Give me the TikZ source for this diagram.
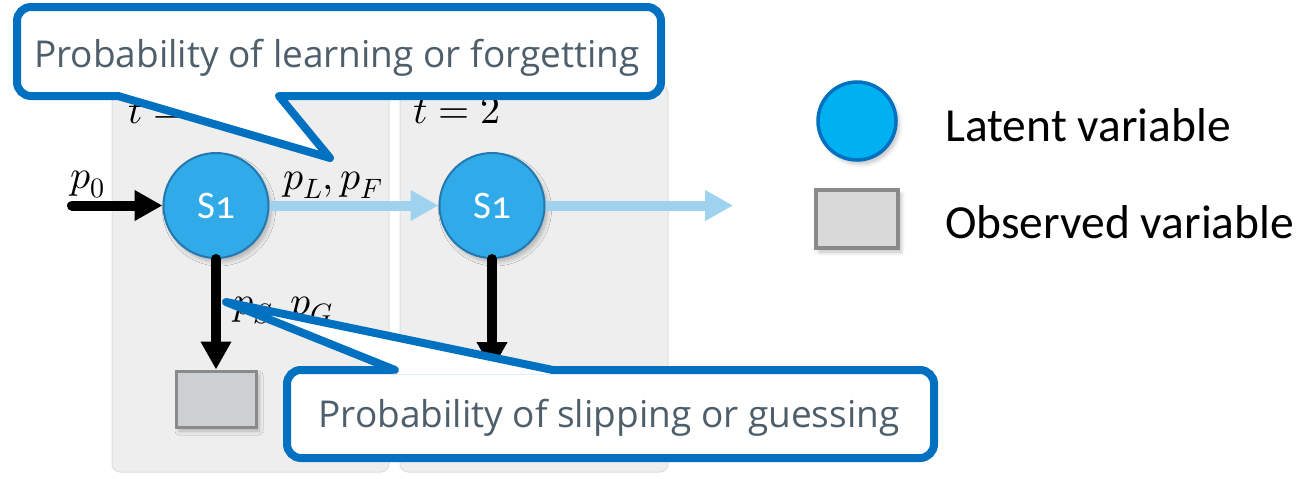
\documentclass[tikz,border=0pt]{standalone}
\usepackage{fontspec}
\usepackage{unicode-math}
\setmainfont{Carlito}
\setmathfont{Latin Modern Math}
\newfontfamily\calloutfont{Open Sans}
\newfontfamily\nodefont[Numbers=OldStyle]{Carlito}
\usetikzlibrary{arrows.meta,shadows.blur}

\definecolor{calloutblue}{HTML}{0070C0}
\definecolor{callouttext}{HTML}{4E5F6B}
\definecolor{latentfill}{HTML}{30AAE8}
\definecolor{latentdraw}{HTML}{2478B0}
\definecolor{legendfill}{HTML}{00B0F0}
\definecolor{obsfill}{HTML}{CDD0D2}
\definecolor{obsdraw}{HTML}{8A8A8A}
\definecolor{legendobsfill}{HTML}{D9D9D9}
\definecolor{panelfill}{HTML}{EEEEEE}
\definecolor{paneldraw}{HTML}{DEDEDE}
\definecolor{transblue}{HTML}{9FD2EE}

\tikzset{
  softshadow/.style={blur shadow={shadow xshift=3pt,shadow yshift=-4pt,
      shadow blur radius=4pt,shadow blur steps=6,shadow opacity=25}},
  panel/.style={fill=panelfill,draw=paneldraw,line width=1pt,rounded corners=8pt},
  latent/.style={circle,minimum size=105pt,inner sep=0pt,fill=latentfill,
      draw=latentdraw,line width=2pt,text=white,
      font=\nodefont\fontsize{39}{39}\selectfont,softshadow},
  observed/.style={rectangle,minimum width=80pt,minimum height=56pt,inner sep=0pt,
      fill=obsfill,draw=obsdraw,line width=3pt,softshadow},
  legendlatent/.style={circle,minimum size=78pt,inner sep=0pt,fill=legendfill,
      draw=calloutblue,line width=3.5pt,softshadow},
  legendobs/.style={rectangle,minimum width=82pt,minimum height=58pt,inner sep=0pt,
      fill=legendobsfill,draw=obsdraw,line width=4pt,softshadow},
  emitarrow/.style={draw=black,line width=10pt,line cap=round,
      -{Triangle[width=29pt,length=28pt]}},
  transarrow/.style={draw=transblue,line width=10pt,
      -{Triangle[width=29pt,length=28pt]}},
  callout/.style={draw=calloutblue,fill=white,line width=8pt,rounded corners=14pt},
  wedge/.style={draw=calloutblue,line width=8pt,line cap=round,line join=round},
  callouttxt/.style={anchor=base,text=callouttext,inner sep=0pt,
      font=\calloutfont\fontsize{37}{37}\selectfont},
  mathlabel/.style={anchor=base west,inner sep=0pt,font=\fontsize{40}{40}\selectfont},
  legendtxt/.style={anchor=west,inner sep=0pt,font=\fontsize{47.5}{47.5}\selectfont},
}

\begin{document}
\begin{tikzpicture}[x=1pt,y=-1pt]
\useasboundingbox (0,0) rectangle (1301,479);

% time-slice panels
\path[panel] (112,85) rectangle (389,472);
\path[panel] (400,85) rectangle (668,472);
\node[mathlabel] (t1) at (128,123) {$t=1$};
\node[mathlabel] (t2) at (413,123) {$t=2$};

% hidden states and observation
\node[latent] (s1) at (216,205.5) {S1};
\node[latent] (s2) at (492,205.5) {S1};
\node[observed] (o1) at (216,399) {};
\coordinate (start) at (72,205.5);
\coordinate (next) at (733,205.5);
\coordinate (o2top) at (492,370);

% connectors
\draw[emitarrow] (start) -- (s1.west);
\draw[transarrow] (s1.east) -- (s2.west);
\draw[transarrow] (s2.east) -- (next);
\draw[emitarrow] (s1.south) -- (o1.north);
\draw[emitarrow] (s2.south) -- (o2top);

% parameter labels
\node[mathlabel] (p0) at (70,188) {$p_0$};
\node[mathlabel] (plf) at (283,189) {$p_L,p_F$};
\node[mathlabel] (psg) at (233,314) {$p_S,p_G$};

% callout: learning / forgetting
\path[callout] (17,7) rectangle (661,96);
\fill[white] (118,92) -- (330,158) -- (279,92) -- cycle;
\draw[wedge] (118,96) -- (330,158) -- (279,96);
\node[callouttxt] (c1) at (337,67) {Probability of learning or forgetting};

% callout: slipping / guessing
\path[callout] (287,370) rectangle (934,458);
\fill[white] (395,374) -- (226,302) -- (553,374) -- cycle;
\draw[wedge] (395,370) -- (226,302) -- (553,370);
\node[callouttxt] (c2) at (609,427) {Probability of slipping or guessing};

% legend
\node[legendlatent] (ll) at (857,121) {};
\node[legendobs] (lo) at (857,219) {};
\node[legendtxt] (llt) at (945,125) {Latent variable};
\node[legendtxt] (lot) at (945,222) {Observed variable};
\end{tikzpicture}
\end{document}
